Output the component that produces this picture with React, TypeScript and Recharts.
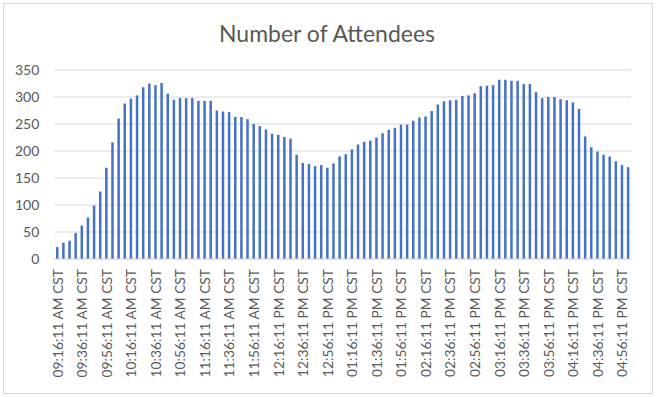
import React from "react";
import { BarChart, Bar, XAxis, YAxis, CartesianGrid } from "recharts";

const times: string[] = [
  "09:16:11 AM CST", "09:21:11 AM CST", "09:26:11 AM CST", "09:31:11 AM CST", "09:36:11 AM CST", "09:41:11 AM CST",
  "09:46:11 AM CST", "09:51:11 AM CST", "09:56:11 AM CST",
  "10:01:11 AM CST", "10:06:11 AM CST", "10:11:11 AM CST", "10:16:11 AM CST", "10:21:11 AM CST", "10:26:11 AM CST",
  "10:31:11 AM CST", "10:36:11 AM CST", "10:41:11 AM CST", "10:46:11 AM CST", "10:51:11 AM CST", "10:56:11 AM CST",
  "11:01:11 AM CST", "11:06:11 AM CST", "11:11:11 AM CST", "11:16:11 AM CST", "11:21:11 AM CST", "11:26:11 AM CST",
  "11:31:11 AM CST", "11:36:11 AM CST", "11:41:11 AM CST", "11:46:11 AM CST", "11:51:11 AM CST", "11:56:11 AM CST",
  "12:01:11 PM CST", "12:06:11 PM CST", "12:11:11 PM CST", "12:16:11 PM CST", "12:21:11 PM CST", "12:26:11 PM CST",
  "12:31:11 PM CST", "12:36:11 PM CST", "12:41:11 PM CST", "12:46:11 PM CST", "12:51:11 PM CST", "12:56:11 PM CST",
  "01:01:11 PM CST", "01:06:11 PM CST", "01:11:11 PM CST", "01:16:11 PM CST", "01:21:11 PM CST", "01:26:11 PM CST",
  "01:31:11 PM CST", "01:36:11 PM CST", "01:41:11 PM CST", "01:46:11 PM CST", "01:51:11 PM CST", "01:56:11 PM CST",
  "02:01:11 PM CST", "02:06:11 PM CST", "02:11:11 PM CST", "02:16:11 PM CST", "02:21:11 PM CST", "02:26:11 PM CST",
  "02:31:11 PM CST", "02:36:11 PM CST", "02:41:11 PM CST", "02:46:11 PM CST", "02:51:11 PM CST", "02:56:11 PM CST",
  "03:01:11 PM CST", "03:06:11 PM CST", "03:11:11 PM CST", "03:16:11 PM CST", "03:21:11 PM CST", "03:26:11 PM CST",
  "03:31:11 PM CST", "03:36:11 PM CST", "03:41:11 PM CST", "03:46:11 PM CST", "03:51:11 PM CST", "03:56:11 PM CST",
  "04:01:11 PM CST", "04:06:11 PM CST", "04:11:11 PM CST", "04:16:11 PM CST", "04:21:11 PM CST", "04:26:11 PM CST",
  "04:31:11 PM CST", "04:36:11 PM CST", "04:41:11 PM CST", "04:46:11 PM CST", "04:51:11 PM CST", "04:56:11 PM CST",
  "05:01:11 PM CST",
];

const attendees: number[] = [
  22, 30, 34, 48, 62, 77, 99, 125, 169, 216,
  260, 288, 297, 303, 318, 325, 322, 326, 306, 295,
  298, 298, 298, 293, 293, 293, 275, 273, 272, 263,
  263, 259, 250, 246, 240, 232, 230, 226, 223, 193,
  178, 176, 172, 174, 169, 177, 190, 194, 203, 212,
  217, 219, 225, 233, 239, 243, 249, 249, 256, 262,
  264, 274, 286, 292, 294, 295, 302, 303, 307, 320,
  321, 322, 332, 332, 330, 330, 324, 324, 309, 298,
  300, 300, 296, 294, 290, 278, 227, 207, 199, 193,
  190, 181, 174, 170,
];

const yTicks: number[] = [0, 50, 100, 150, 200, 250, 300, 350];

const data = times.map((t, i) => ({ time: t, value: attendees[i] }));

const FONT = "Lato, 'Open Sans', sans-serif";
const TEXT = "#595959";

const XTick = (props: any) => {
  const { x, y, payload } = props;
  const ty = y + 10;
  return (
    <text
      x={x}
      y={ty}
      transform={`rotate(-90, ${x}, ${ty})`}
      textAnchor="end"
      dominantBaseline="central"
      fontSize={13.8}
      fontFamily={FONT}
      fill={TEXT}
    >
      {payload.value}
    </text>
  );
};

export default function App() {
  return (
    <div style={{ position: "absolute", left: 0, top: 0, width: 656, height: 397, background: "#fff" }}>
      <div
        style={{
          position: "absolute",
          left: 3,
          top: 3,
          width: 648,
          height: 389,
          border: "1px solid #d9d9d9",
        }}
      />
      <svg style={{ position: "absolute", left: 0, top: 0 }} width={656} height={60}>
        <text x={327} y={42} textAnchor="middle" fontSize={23} fontFamily={FONT} fontWeight={400} fill={TEXT}>
          Number of Attendees
        </text>
      </svg>
      <div style={{ position: "absolute", left: 0, top: 0 }}>
        <BarChart
          width={656}
          height={397}
          data={data}
          margin={{ top: 70, right: 25, bottom: 0, left: 0 }}
          barSize={2.5}
        >
          <CartesianGrid vertical={false} stroke="#d9d9d9" strokeWidth={1} />
          <XAxis
            dataKey="time"
            interval={3}
            height={138}
            tickLine={false}
            tickSize={0}
            tickMargin={0}
            axisLine={{ stroke: "#d9d9d9" }}
            tick={<XTick />}
          />
          <YAxis
            width={54}
            domain={[0, 350]}
            ticks={yTicks}
            interval={0}
            axisLine={false}
            tickLine={false}
            tickSize={0}
            tickMargin={14.7}
            tick={{ fontSize: 14, fontFamily: FONT, fill: TEXT }}
          />
          <Bar dataKey="value" fill="#4472C4" isAnimationActive={false} />
        </BarChart>
      </div>
    </div>
  );
}
